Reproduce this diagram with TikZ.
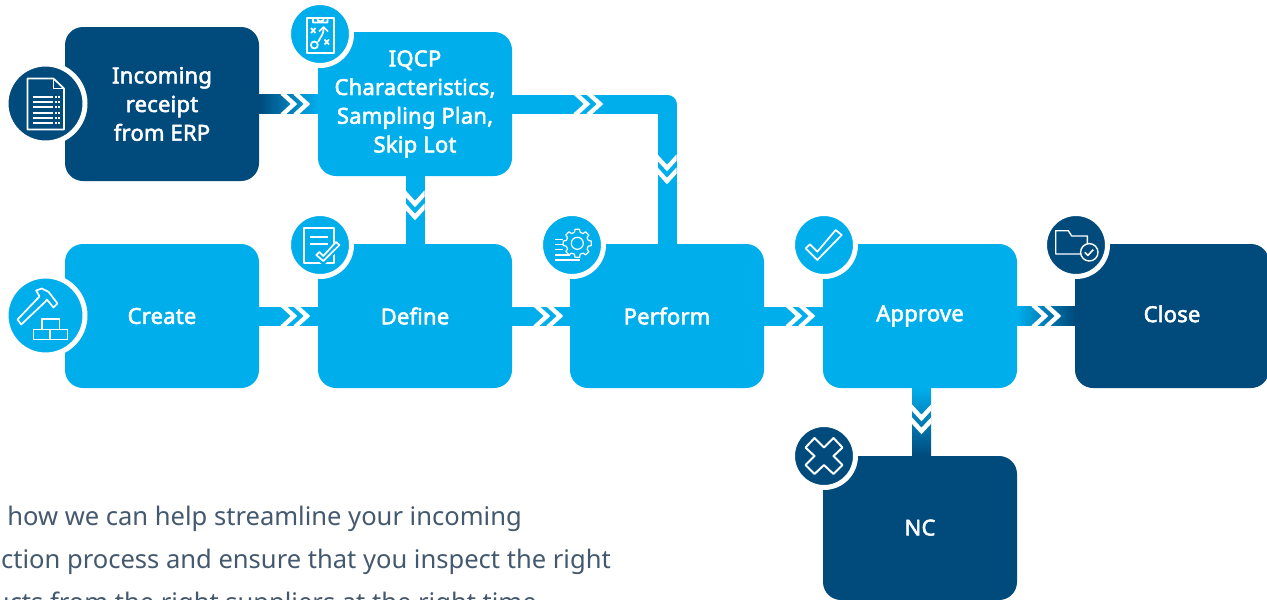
\documentclass[tikz,border=0pt]{standalone}
\usepackage{fontspec}
\setmainfont{Noto Sans}
\newfontfamily\labelfont[FakeBold=2.4,LetterSpace=1]{Noto Sans}
\usetikzlibrary{calc}
\definecolor{lightblue}{HTML}{00AEEC}
\definecolor{darkblue}{HTML}{004A7C}
\definecolor{slatetext}{HTML}{44586E}
\tikzstyle{stage}=[rounded corners=18pt, text=white, align=center, inner sep=0pt, minimum width=194pt, minimum height=144pt, font=\fontsize{22}{28.7}\labelfont]
\tikzstyle{lightstage}=[stage, fill=lightblue]
\tikzstyle{darkstage}=[stage, fill=darkblue]
\tikzstyle{bubble}=[circle, inner sep=0pt, draw=white, line width=5pt]
\tikzstyle{band}=[line width=19pt, color=lightblue, line join=round]
\tikzstyle{chev}=[white, line width=4.4pt, miter limit=10]
\tikzstyle{ink}=[white, line width=1.7pt, line join=round]
\tikzstyle{para}=[anchor=base east, inner sep=0pt, text=slatetext, font=\fontsize{25.55}{30}\selectfont]
\tikzset{
	chevrons/.pic={
		\clip (-20,-9.5) rectangle (20,9.5);
		\foreach \x in {-13,0} {
			\draw[chev] (\x-1,-11) -- (\x+11,0) -- (\x-1,11);
		}
	},
	sheeticon/.pic={
		\draw[ink] (-18,-25) -- (8,-25) -- (18.5,-15) -- (18.5,26) -- (-18,26) -- cycle;
		\draw[ink] (8,-25) -- (8,-15) -- (18.5,-15);
		\foreach \y in {-7,-2,3.5,9,14,19} {
			\draw[ink, line width=2pt] (-13,\y) -- (7,\y);
			\draw[ink, line width=2pt, dash pattern=on 2pt off 1.5pt] (9,\y) -- (15,\y);
		}
	},
	planicon/.pic={
		\draw[ink] (-13.3,-15.7) rectangle (14,19.3);
		\draw[ink, fill=lightblue] (-7,-11.5) -- (-7,-16) -- (-3,-16) arc (180:0:3.5) -- (7.5,-16) -- (7.5,-11.5) -- cycle;
		\draw[ink] (-9,-6) -- (-4.5,-1) (-9,-1) -- (-4.5,-6);
		\draw[ink] (4.5,5.5) -- (9,10.5) (4.5,10.5) -- (9,5.5);
		\draw[ink] (-5.7,11) circle (3.5);
		\draw[ink] (-2,8) .. controls (1,2) and (4,0) .. (3.5,-6);
		\draw[ink] (-1,-2.5) -- (3.5,-7) -- (8,-2.5);
	},
	hammericon/.pic={
		\draw[ink] (-28,4) -- (-6,-19) -- (-9.3,-25) -- (-3.7,-27) -- (3,-23.7) -- (12,-12) -- (8,-8) -- (1.3,-16) -- (-0.3,-13.7) -- (-24.3,9) -- cycle;
		\draw[ink] (-12,14) rectangle (4.5,24);
		\draw[ink] (4.5,14) rectangle (22,24);
		\draw[ink] (-3.7,3.7) rectangle (14,14);
	},
	noteicon/.pic={
		\draw[ink] (-16,-17.3) rectangle (14,18.3);
		\draw[ink] (-10,-7.7) -- (8,-7.7);
		\draw[ink] (-10,-1) -- (8,-1);
		\draw[lightblue, line width=8pt] (-2.7,10) -- (3.3,15) -- (19.3,-1.7);
		\draw[ink, fill=lightblue] (-3.7,10) -- (-0.7,7) -- (3.3,11) -- (16,-3) -- (19.5,0) -- (3.3,16) -- cycle;
	},
	gearicon/.pic={
		\draw[ink, line width=1.2pt] (5.3,-1.7) circle (6);
		\foreach \a in {0,45,...,315} {
			\draw[ink, line width=1.2pt, shift={(5.3,-1.7)}, rotate=\a] (11,-2.8) -- (14,-2.3) -- (14,2.3) -- (11,2.8) arc (14.5:30.5:11.3);
		}
		\foreach \y in {-5.7,-0.7,4.3} {
			\draw[ink, line width=1.2pt] (-17,\y) -- (-9,\y);
		}
		\draw[ink, line width=1.2pt] (-17,10) -- (-2,10);
		\draw[ink, line width=1.2pt] (-17,15) -- (8,15);
	},
	tickicon/.pic={
		\draw[ink] (-18.3,3.3) -- (-14,-0.7) -- (-6.7,6.7) -- (11.7,-15) -- (17.7,-10) -- (-6.7,15) -- cycle;
	},
	foldericon/.pic={
		\draw[ink, line width=1.4pt] (4.5,9) -- (-20.3,9) -- (-20.3,-14.3) -- (-7.7,-14.3) -- (-4.3,-9) -- (11.3,-9) -- (11.3,-1);
		\draw[ink, line width=1.4pt] (13.3,7.3) circle (8.7);
		\draw[ink, line width=1.6pt] (8.8,7.3) -- (11.9,10.4) -- (17.3,4.6);
	},
	crossicon/.pic={
		\draw[ink, line width=2pt] (-18.5,-8.5) -- (-9.5,-18) -- (0,-8.5) -- (9.5,-18) -- (18.5,-8.5) -- (9.5,0) -- (18.5,9) -- (9.5,18) -- (0,9) -- (-9.5,18) -- (-18.5,9) -- (-9.5,0) -- cycle;
	}
}
\begin{document}
\begin{tikzpicture}[x=1pt,y=-1pt]
\def \bw {9.5}
\useasboundingbox (0,0) rectangle (1267,600);
\clip (0,0) rectangle (1267,600);

\node[para] (paraA) at (522,525) {how we can help streamline your incoming};
\node[para] (paraB) at (611,568) {ction process and ensure that you inspect the right};
\node[para] (paraC) at (537,611) {ucts from the right suppliers at the right time};

\node[darkstage, minimum height=154pt] (receipt) at (162,104) {Incoming\\receipt\\from ERP};
\node[lightstage] (iqcp) at (415,104) {IQCP\\Characteristics,\\Sampling Plan,\\Skip Lot};
\node[lightstage] (create) at (162,316) {Create};
\node[lightstage] (define) at (415,316) {Define};
\node[lightstage] (perform) at (667,316) {Perform};
\node[lightstage] (approve) at (920,316) {\raisebox{2.5pt}{Approve}};
\node[darkstage] (close) at (1172,316) {\raisebox{4.5pt}{Close}};
\node[darkstage] (nc) at (920,528) {\raisebox{1pt}{NC}};

\shade[left color=darkblue, right color=lightblue] ($(receipt.east)+(0,-\bw)$) rectangle ($(iqcp.west)+(0,\bw)$);
\draw[band] (create) -- (define);
\draw[band] (define) -- (perform);
\draw[band] (perform) -- (approve);
\shade[left color=lightblue, right color=darkblue] ($(approve.east)+(0,-\bw)$) rectangle ($(close.west)+(0,\bw)$);
\draw[band] (iqcp) -- (define);
\draw[band] (iqcp.east) -| (perform.north);
\shade[top color=lightblue, bottom color=darkblue] ($(approve.south)+(-\bw+1.5,0)$) rectangle ($(nc.north)+(\bw+1.5,0)$);

\path pic at (296,104) {chevrons};
\path pic at (296,316) {chevrons};
\path pic at (549,316) {chevrons};
\path pic at (801,316) {chevrons};
\path pic at (1047,316) {chevrons};
\path pic at (589,104) {chevrons};
\path pic[rotate=-90] at (667,170) {chevrons};
\path pic[rotate=-90] at (415,206) {chevrons};
\path pic[rotate=-90] at (921.5,420) {chevrons};

\node[bubble, fill=darkblue, minimum size=79pt] (sheetb) at (45.5,103.5) {};
\node[bubble, fill=lightblue, minimum size=63pt] (planb) at (320,34) {};
\node[bubble, fill=lightblue, minimum size=79pt] (hammerb) at (45.5,315.5) {};
\node[bubble, fill=lightblue, minimum size=63pt] (noteb) at (320,245) {};
\node[bubble, fill=lightblue, minimum size=63pt] (gearb) at (572,245) {};
\node[bubble, fill=lightblue, minimum size=63pt] (tickb) at (824,245) {};
\node[bubble, fill=darkblue, minimum size=63pt] (folderb) at (1076,245) {};
\node[bubble, fill=darkblue, minimum size=63pt] (crossb) at (824,456) {};

\path pic at (sheetb) {sheeticon};
\path pic at (planb) {planicon};
\path pic at (hammerb) {hammericon};
\path pic at (noteb) {noteicon};
\path pic at (gearb) {gearicon};
\path pic at (tickb) {tickicon};
\path pic at (folderb) {foldericon};
\path pic at (crossb) {crossicon};
\end{tikzpicture}
\end{document}
